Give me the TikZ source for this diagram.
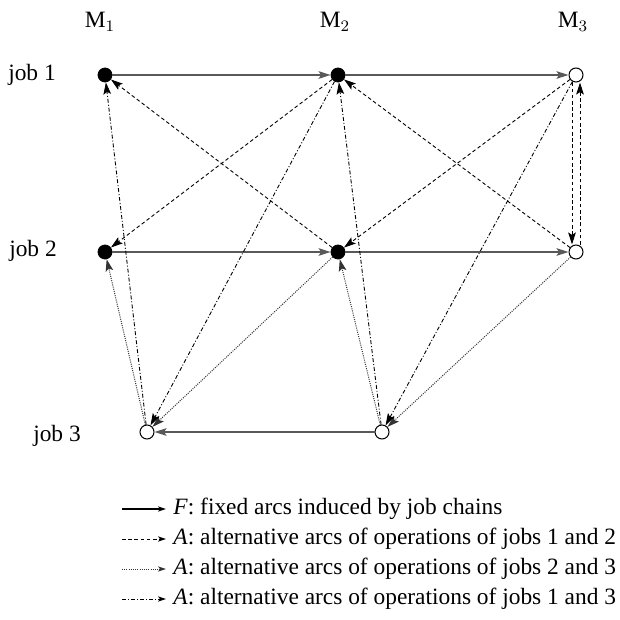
\documentclass[tikz,border=0pt]{standalone}
\usepackage{fontspec}
\setmainfont{Liberation Serif}
\usetikzlibrary{arrows.meta}
\begin{document}
\begin{tikzpicture}[x=0.5pt, y=-0.5pt, font=\fontsize{11.7}{14}\selectfont,
  full/.style={circle, fill=black, draw=black, inner sep=0pt, minimum size=7pt},
  empty/.style={circle, fill=white, draw=black, line width=0.5pt, inner sep=0pt, minimum size=7pt},
  tip/.style={-{Stealth[length=6pt, width=3.8pt, inset=1.2pt]}},
  fix/.style={tip, draw=black!65, line width=0.8pt},
  alt12/.style={tip, line width=0.45pt, dash pattern=on 1.8pt off 1.3pt},
  alt23/.style={tip, draw=black!80, line width=0.5pt, dash pattern=on 0.5pt off 0.6pt},
  alt13/.style={tip, line width=0.45pt, dash pattern=on 2pt off 1pt on 0.5pt off 1pt},
  small/.style={-{Stealth[length=4pt, width=2.6pt, inset=1pt]}},
  legend/.style={anchor=west, inner sep=0pt}]
\useasboundingbox (0,0) rectangle (620,620);

\node (m1) at (100,22) {M$_1$};
\node (m2) at (335,22) {M$_2$};
\node (m3) at (573,22) {M$_3$};
\node (j1) at (32,75) {job 1};
\node (j2) at (33,251) {job 2};
\node (j3) at (57,436) {job 3};

\node[full]  (o11) at (105,75) {};
\node[full]  (o12) at (338,75) {};
\node[empty] (o13) at (576,75) {};
\node[full]  (o21) at (105,252) {};
\node[full]  (o22) at (338,252) {};
\node[empty] (o23) at (576,252) {};
\node[empty] (o31) at (147,432) {};
\node[empty] (o32) at (382,432) {};

% job chains
\draw[fix] (o11) -- (o12);
\draw[fix] (o12) -- (o13);
\draw[fix] (o21) -- (o22);
\draw[fix] (o22) -- (o23);
\draw[fix] (o32) -- (o31);

% jobs 1 and 2
\draw[alt12] (o22) -- (o11);
\draw[alt12] (o12) -- (o21);
\draw[alt12] (o23) -- (o12);
\draw[alt12] (o13) -- (o22);
\draw[alt12] ([xshift=-2pt]o13.south) -- ([xshift=-2pt]o23.north);
\draw[alt12] ([xshift=2pt]o23.north) -- ([xshift=2pt]o13.south);

% jobs 2 and 3
\draw[alt23] (o31) -- (o21);
\draw[alt23] (o22) -- (o31);
\draw[alt23] (o32) -- (o22);
\draw[alt23] (o23) -- (o32);

% jobs 1 and 3
\draw[alt13] (o31) -- (o11);
\draw[alt13] (o12) -- (o31);
\draw[alt13] (o32) -- (o12);
\draw[alt13] (o13) -- (o32);

% legende
\node[legend] (t1) at (173,509) {\textit{F}: fixed arcs induced by job chains};
\node[legend] (t2) at (173,539) {\textit{A}: alternative arcs of operations of jobs 1 and 2};
\node[legend] (t3) at (173,569) {\textit{A}: alternative arcs of operations of jobs 2 and 3};
\node[legend] (t4) at (173,599) {\textit{A}: alternative arcs of operations of jobs 1 and 3};
\coordinate (a1) at (122,509); \coordinate (b1) at (166,509);
\coordinate (a2) at (122,539); \coordinate (b2) at (166,539);
\coordinate (a3) at (122,569); \coordinate (b3) at (166,569);
\coordinate (a4) at (122,599); \coordinate (b4) at (166,599);
\draw[small, line width=0.6pt] (a1) -- (b1);
\draw[small, line width=0.45pt, dash pattern=on 1.8pt off 1.3pt] (a2) -- (b2);
\draw[small, draw=black!80, line width=0.5pt, dash pattern=on 0.5pt off 0.6pt] (a3) -- (b3);
\draw[small, line width=0.45pt, dash pattern=on 2pt off 1pt on 0.5pt off 1pt] (a4) -- (b4);
\end{tikzpicture}
\end{document}
